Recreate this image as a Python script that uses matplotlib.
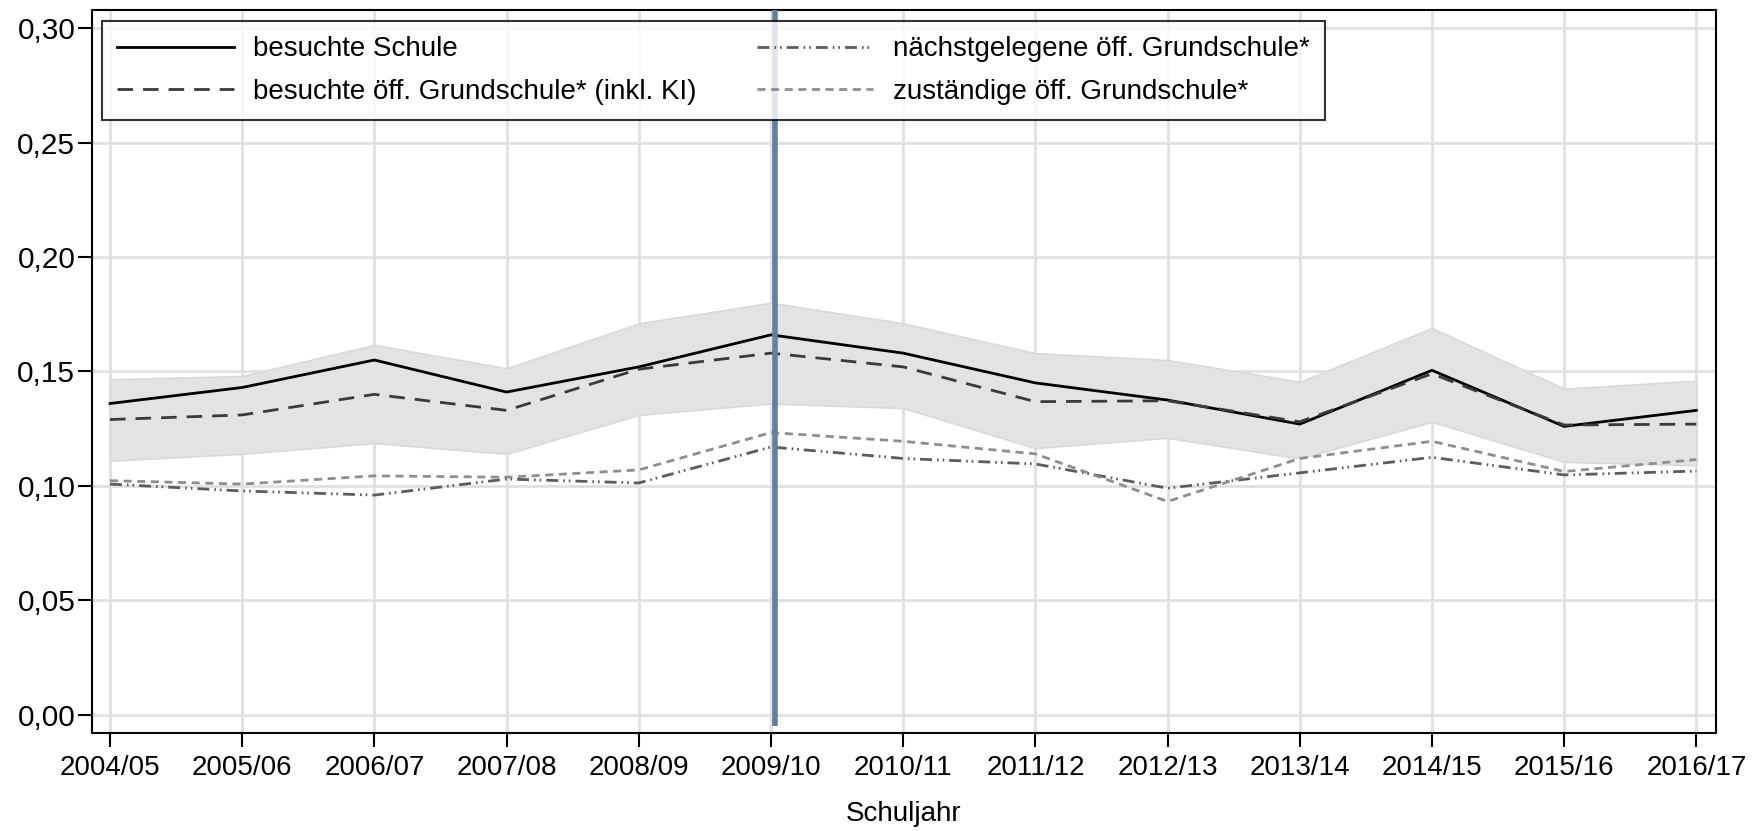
import matplotlib
matplotlib.use("Agg")
import matplotlib.pyplot as plt
import numpy as np

# Schuljahre (x-Achse)
schuljahre = ["2004/05", "2005/06", "2006/07", "2007/08", "2008/09", "2009/10",
              "2010/11", "2011/12", "2012/13", "2013/14", "2014/15", "2015/16", "2016/17"]

# Werte je Reihe
besuchte_schule = [0.136, 0.143, 0.155, 0.141, 0.152, 0.166, 0.158,
                   0.145, 0.1375, 0.127, 0.1505, 0.126, 0.133]
besuchte_oeff = [0.129, 0.131, 0.140, 0.133, 0.151, 0.158, 0.152,
                 0.1368, 0.1372, 0.128, 0.149, 0.1266, 0.127]
ki_oben = [0.1466, 0.148, 0.1616, 0.1514, 0.171, 0.180, 0.171,
           0.158, 0.155, 0.1455, 0.169, 0.1425, 0.146]
ki_unten = [0.111, 0.114, 0.1187, 0.114, 0.131, 0.136, 0.134,
            0.1165, 0.121, 0.112, 0.128, 0.1105, 0.109]
naechstgelegene = [0.1008, 0.0978, 0.096, 0.103, 0.1013, 0.117, 0.112,
                   0.1096, 0.099, 0.1057, 0.1125, 0.1048, 0.1065]
zustaendige = [0.1023, 0.1008, 0.1044, 0.1038, 0.107, 0.1233, 0.1195,
               0.114, 0.0932, 0.112, 0.1195, 0.1063, 0.1115]

y_ticks = [0.00, 0.05, 0.10, 0.15, 0.20, 0.25, 0.30]
y_labels = ["0,00", "0,05", "0,10", "0,15", "0,20", "0,25", "0,30"]
reform_jahr = "2009/10"

plt.rcParams["font.family"] = ["Liberation Sans", "DejaVu Sans"]
plt.rcParams["lines.scale_dashes"] = False

fig = plt.figure(figsize=(17.63, 8.31), dpi=100)
ax = fig.add_axes([0.0522, 0.118, 0.9211, 0.870])

x = np.arange(len(schuljahre))

# Konfidenzband
ax.fill_between(x, ki_unten, ki_oben, color="#e3e3e3", edgecolor="#d9d9d9",
                linewidth=1.2, zorder=2)

ax.plot(x, besuchte_schule, color="#000000", linewidth=2.0, zorder=4,
        label="besuchte Schule")
ax.plot(x, besuchte_oeff, color="#3a3a3a", linewidth=2.0, zorder=4,
        linestyle=(0, (11.2, 7.2)),
        label="besuchte öff. Grundschule* (inkl. KI)")
ax.plot(x, naechstgelegene, color="#5c5c5c", linewidth=2.0, zorder=3,
        linestyle=(0, (8.6, 3.6, 1.2, 2.8, 1.2, 3.6)),
        label="nächstgelegene öff. Grundschule*")
ax.plot(x, zustaendige, color="#8e8e8e", linewidth=2.0, zorder=3,
        linestyle=(0, (5.8, 4.0)),
        label="zuständige öff. Grundschule*")

# Markierung 2009/10 (leicht rechts neben der Gitterlinie)
ax.vlines(schuljahre.index(reform_jahr) + 0.03, -0.0048, 0.3079, color="#62809f",
          linewidth=4.0, zorder=5)

ax.set_xlim(-0.136, 12.148)
ax.set_ylim(-0.0079, 0.3079)
ax.set_xticks(x)
ax.set_xticklabels(schuljahre, fontsize=20)
ax.set_yticks(y_ticks)
ax.set_yticklabels(y_labels, fontsize=21.5)
ax.tick_params(axis="both", direction="out", length=10, width=1.5, color="black")
ax.tick_params(axis="x", pad=6)
ax.tick_params(axis="y", pad=2)

ax.grid(True, color="#e0e0e0", linewidth=2.0, zorder=0)
ax.set_axisbelow(True)
for s in ax.spines.values():
    s.set_linewidth(1.5)
    s.set_color("black")

ax.set_xlabel("Schuljahr", fontsize=20, labelpad=14)

leg = ax.legend(ncol=2, loc="upper left", bbox_to_anchor=(0.0062, 0.9848),
                borderaxespad=0, fontsize=20, frameon=True, fancybox=False,
                handlelength=4.2, handletextpad=0.7, columnspacing=2.15,
                labelspacing=0.6, borderpad=0.55)
leg.get_frame().set_edgecolor("black")
leg.get_frame().set_linewidth(1.5)
leg.set_zorder(10)

fig.savefig("out.png", dpi=100)
